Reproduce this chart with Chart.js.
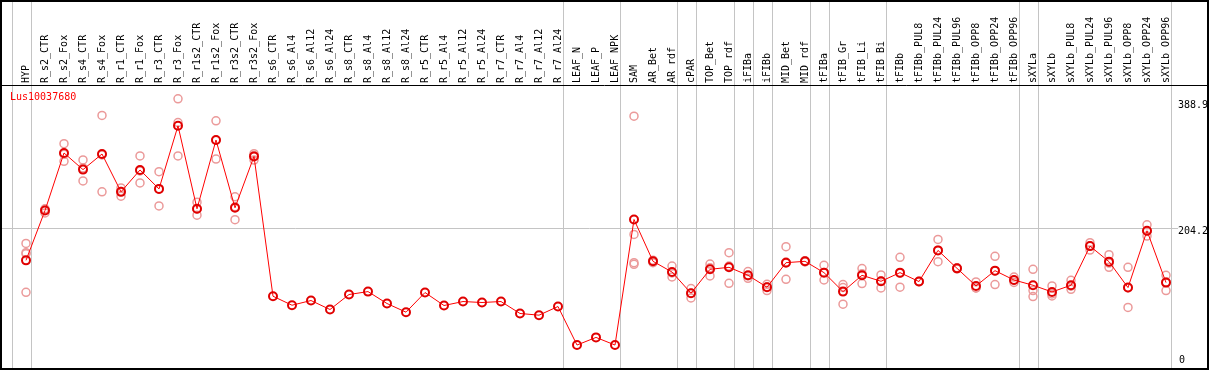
<!DOCTYPE html>
<html>
<head>
<meta charset="utf-8">
<script src="https://cdn.jsdelivr.net/npm/chart.js@4.4.0/dist/chart.umd.min.js"></script>
<style>
  html, body { margin: 0; padding: 0; background: #fff; }
  #wrap { width: 1209px; height: 370px; }
</style>
</head>
<body>
<div id="wrap"><canvas id="chart" width="1209" height="370"></canvas></div>
<script>
const geneName = 'Lus10037680';

const samples = ['HYP', 'R_s2_CTR', 'R_s2_Fox', 'R_s4_CTR', 'R_s4_Fox', 'R_r1_CTR', 'R_r1_Fox', 'R_r3_CTR', 'R_r3_Fox',
  'R_r1s2_CTR', 'R_r1s2_Fox', 'R_r3s2_CTR', 'R_r3s2_Fox', 'R_s6_CTR', 'R_s6_Al4', 'R_s6_Al12', 'R_s6_Al24',
  'R_s8_CTR', 'R_s8_Al4', 'R_s8_Al12', 'R_s8_Al24', 'R_r5_CTR', 'R_r5_Al4', 'R_r5_Al12', 'R_r5_Al24',
  'R_r7_CTR', 'R_r7_Al4', 'R_r7_Al12', 'R_r7_Al24', 'LEAF_N', 'LEAF_P', 'LEAF_NPK', 'SAM', 'AR_Bet', 'AR_rdf',
  'cPAR', 'TOP_Bet', 'TOP_rdf', 'iFIBa', 'iFIBb', 'MID_Bet', 'MID_rdf', 'tFIBa', 'tFIB_Gr', 'tFIB_Li', 'tFIB_Bi',
  'tFIBb', 'tFIBb_PUL8', 'tFIBb_PUL24', 'tFIBb_PUL96', 'tFIBb_OPP8', 'tFIBb_OPP24', 'tFIBb_OPP96',
  'sXYLa', 'sXYLb', 'sXYLb_PUL8', 'sXYLb_PUL24', 'sXYLb_PUL96', 'sXYLb_OPP8', 'sXYLb_OPP24', 'sXYLb_OPP96'];

// mean expression per sample
const meanExpr = [156.4, 229.5, 313.9, 289.5, 312.4, 256.9, 289.0, 261.2, 353.8, 232.0, 332.9, 233.5, 308.9,
  103.8, 90.6, 97.5, 84.3, 106.3, 110.6, 93.1, 80.4, 109.2, 90.2, 96.0, 94.6, 96.0, 78.5, 76.0, 88.7,
  32.2, 43.4, 32.2, 216.4, 155.0, 139.3, 108.2, 143.3, 146.2, 134.5, 117.0, 153.0, 155.0, 138.4, 110.6,
  134.5, 125.7, 138.4, 125.3, 171.0, 144.7, 118.9, 141.3, 127.6, 119.9, 110.1, 119.9, 177.3, 154.5,
  116.5, 199.8, 123.8];

// replicates
const rep1 = [181.3, 226.0, 327.5, 303.7, 369.0, 262.7, 309.5, 286.5, 393.4, 241.7, 361.1, 249.6, 312.9,
  null, null, null, null, null, null, null, null, null, null, null, null, null, null, null, null,
  null, null, null, 367.9, 156.6, 148.0, 115.0, 151.0, 167.7, 139.9, 121.3, 176.4, 156.0, 149.1, 120.9,
  144.3, 135.0, 160.8, 125.6, 187.1, 145.5, 124.7, 162.3, 131.9, 143.3, 118.9, 127.2, 182.3, 164.8,
  146.2, 208.6, 134.5];
const rep2 = [167.7, 231.0, 301.6, 272.9, 257.0, 250.5, 270.0, 236.3, 309.5, 222.7, 305.0, 216.0, 310.3,
  null, null, null, null, null, null, null, null, null, null, null, null, null, null, null, null,
  null, null, null, 194.4, 153.0, 132.0, 101.3, 133.5, 122.8, 130.1, 112.1, 128.6, 154.0, 127.6, 92.1,
  122.4, 116.0, 117.0, 125.0, 154.5, 143.8, 116.0, 120.9, 124.0, 112.1, 104.2, 114.0, 171.5, 146.2,
  87.3, 192.0, 112.1];
const rep3 = [109.6, 232.0, 312.0, 292.0, 311.0, 257.5, 287.5, 261.0, 358.5, 231.6, 332.6, 235.0, 303.5,
  null, null, null, null, null, null, null, null, null, null, null, null, null, null, null, null,
  null, null, null, 150.6, 155.5, 138.0, 108.3, 145.4, 148.0, 133.5, 117.6, 154.0, 155.0, 138.5, 116.5,
  136.8, 126.0, 137.4, 125.4, 171.4, 144.8, 116.0, 140.7, 127.0, 103.3, 107.2, 118.5, 178.0, 152.5,
  116.0, 198.8, 124.8];
const rep4 = [166.0, null, null, null, null, null, null, null, null, null, null, null, null,
  null, null, null, null, null, null, null, null, null, null, null, null, null, null, null, null,
  null, null, null, 153.0, null, null, null, null, null, null, null, null, null, null, null,
  null, null, null, null, null, null, null, null, null, null, null, null, null, null,
  null, null, null];

const yTicks = [204.2, 388.9];
// plot area keeps a few px at the bottom, so the axis starts a little above 0
const yMin = 4.4;
const yMax = 413.6;
// last sample index of each tissue group (separator drawn after it)
const groupEnds = [-1, 0, 28, 31, 34, 35, 37, 38, 39, 41, 42, 45, 52, 53, 60];

const monoFont = { family: 'DejaVu Sans Mono', size: 10 };

const framePlugin = {
  id: 'frame',
  beforeDatasetsDraw(chart) {
    const ctx = chart.ctx;
    const xs = chart.scales.x;
    const ys = chart.scales.y;
    ctx.save();
    ctx.strokeStyle = '#c4c4c4';
    ctx.lineWidth = 1;
    groupEnds.forEach(i => {
      const x = Math.round(xs.getPixelForValue(i) + 4.7) + 0.5;
      ctx.beginPath();
      ctx.moveTo(x, 0);
      ctx.lineTo(x, chart.height);
      ctx.stroke();
    });
    const gy = Math.round(ys.getPixelForValue(yTicks[0])) + 0.5;
    ctx.beginPath();
    ctx.moveTo(1, gy);
    ctx.lineTo(1178, gy);
    ctx.stroke();
    ctx.restore();
  },
  afterDraw(chart) {
    const ctx = chart.ctx;
    const ys = chart.scales.y;
    ctx.save();
    ctx.strokeStyle = '#000';
    ctx.lineWidth = 2;
    ctx.strokeRect(1, 1, chart.width - 2, chart.height - 2);
    ctx.lineWidth = 1;
    ctx.beginPath();
    ctx.moveTo(0, chart.chartArea.top + 0.5);
    ctx.lineTo(chart.width, chart.chartArea.top + 0.5);
    ctx.stroke();
    ctx.font = '10px "DejaVu Sans Mono"';
    ctx.textBaseline = 'middle';
    ctx.fillStyle = '#000';
    ctx.fillText('0', 1179, ys.getPixelForValue(0) - 6.5);
    ctx.fillStyle = '#ff0000';
    ctx.fillText(geneName, 10, chart.chartArea.top + 12.5);
    ctx.restore();
  }
};

function repSet(data) {
  return {
    data: data,
    showLine: false,
    pointStyle: 'circle',
    pointRadius: 4,
    pointBorderWidth: 1.5,
    pointBorderColor: '#eb9a9a',
    pointBackgroundColor: 'rgba(0,0,0,0)',
    clip: false
  };
}

new Chart(document.getElementById('chart'), {
  type: 'line',
  data: {
    labels: samples,
    datasets: [
      {
        data: meanExpr,
        borderColor: '#ff0000',
        borderWidth: 1,
        pointStyle: 'circle',
        pointRadius: 4,
        pointBorderWidth: 2,
        pointBorderColor: '#e00000',
        pointBackgroundColor: 'rgba(0,0,0,0)',
        tension: 0,
        clip: false
      },
      repSet(rep1),
      repSet(rep2),
      repSet(rep3),
      repSet(rep4)
    ]
  },
  options: {
    responsive: false,
    animation: false,
    devicePixelRatio: 1,
    layout: { padding: { left: 26, right: 0, top: 0, bottom: 2 } },
    plugins: { legend: { display: false }, tooltip: { enabled: false } },
    scales: {
      x: {
        type: 'category',
        position: 'top',
        offset: false,
        grid: { display: false, drawTicks: false },
        border: { display: false },
        ticks: {
          autoSkip: false,
          minRotation: 90,
          maxRotation: 90,
          padding: 2,
          labelOffset: 12,
          color: '#000',
          font: monoFont
        },
        afterFit(scale) { scale.height = 85; }
      },
      y: {
        position: 'right',
        min: yMin,
        max: yMax,
        grid: { display: false, drawTicks: true, tickLength: 12 },
        border: { display: false },
        afterBuildTicks(scale) { scale.ticks = yTicks.map(v => ({ value: v })); },
        afterFit(scale) { scale.width = 43; },
        ticks: {
          padding: 0,
          labelOffset: 4,
          color: '#000',
          font: monoFont,
          callback: v => v.toFixed(1)
        }
      }
    }
  },
  plugins: [framePlugin]
});
</script>
</body>
</html>
